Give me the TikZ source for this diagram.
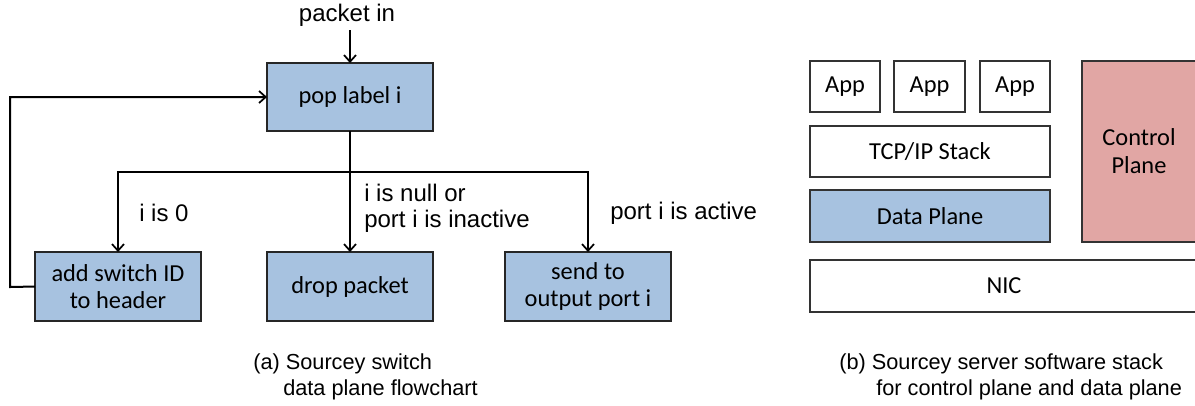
\documentclass[tikz,border=0pt]{standalone}
\usepackage{fontspec}
\setmainfont{Carlito}
\newfontfamily\arial{Liberation Sans}
\usetikzlibrary{arrows.meta}
\definecolor{boxblue}{RGB}{167,194,224}
\definecolor{boxpink}{RGB}{225,166,164}
\tikzset{
  flowbox/.style={draw=black!85, line width=0.9pt, fill=boxblue, inner sep=0pt, outer sep=0pt,
    minimum width=124.5pt, align=center, font=\fontsize{18.3}{20.5}\selectfont},
  stackbox/.style={draw=black!80, line width=0.9pt, fill=white, inner sep=0pt, outer sep=0pt,
    align=center, font=\fontsize{18.3}{21}\selectfont},
  lbl/.style={font=\arial\fontsize{18}{19.5}\selectfont, inner sep=0pt, align=left},
  caption/.style={font=\arial\fontsize{16.3}{19.5}\selectfont, inner sep=0pt, align=left},
  conn/.style={line width=1.5pt, -{Straight Barb[length=5pt,width=9pt,line width=1.3pt]}},
  plainconn/.style={line width=1.5pt}
}
\begin{document}
\begin{tikzpicture}[x=0.75pt,y=-0.75pt]
\useasboundingbox (0,0) rectangle (1195,405);
% ---- (a) flowchart ----
\node[lbl] (pin) at (347,15) {packet in};
\node[flowbox, minimum height=51pt] (pop) at (350,97) {pop label i};
\node[flowbox, minimum height=51.75pt] (add) at (118,286.5) {add switch ID\\to header};
\node[flowbox, minimum height=51.75pt] (drop) at (350,286.5) {drop packet};
\node[flowbox, minimum height=51.75pt] (send) at (588,286.5) {send to\\output port i};
\coordinate (pinb) at (350,30);
\coordinate (br) at (350,172);
\coordinate (bl) at (118,172);
\coordinate (bri) at (588,172);
\coordinate (fb1) at (10,287);
\coordinate (fb2) at (10,97);
\draw[conn] (pinb) -- (pop.north);
\draw[plainconn] (pop.south) -- (br);
\draw[plainconn, line cap=rect] (bl) -- (bri);
\draw[conn] (bl) -- (add.north);
\draw[conn] (br) -- (drop.north);
\draw[conn] (bri) -- (send.north);
\draw[conn] (add.west) -- (fb1) -- (fb2) -- (pop.west);
\node[lbl, anchor=west] (l0) at (139,213) {i is 0};
\node[lbl, anchor=west] (lnull) at (364,208) {i is null or\\port i is inactive};
\node[lbl, anchor=west] (lact) at (610,213) {port i is active};
\node[caption, anchor=west] (capa) at (253,377) {(a) Sourcey switch\\\hspace*{22.5pt}data plane flowchart};
% ---- (b) stack ----
\node[stackbox, minimum width=52.5pt, minimum height=38.25pt] (app1) at (845,86.5) {App};
\node[stackbox, minimum width=53.25pt, minimum height=38.25pt] (app2) at (929.5,86.5) {App};
\node[stackbox, minimum width=52.5pt, minimum height=38.25pt] (app3) at (1015,86.5) {App};
\node[stackbox, minimum width=180pt, minimum height=38.25pt] (tcp) at (930,151.5) {TCP/IP Stack};
\node[stackbox, fill=boxblue, minimum width=180pt, minimum height=39pt] (data) at (930,216) {Data Plane};
\node[stackbox, fill=boxpink, minimum width=85.5pt, minimum height=135.75pt] (ctrl) at (1139,151.5) {Control\\Plane};
\node[stackbox, minimum width=291pt, minimum height=39pt] (nic) at (1004,286) {NIC};
\node[caption, anchor=west] (capb) at (839,377) {(b) Sourcey server software stack\\\hspace*{27.75pt}for control plane and data plane};
\end{tikzpicture}
\end{document}
